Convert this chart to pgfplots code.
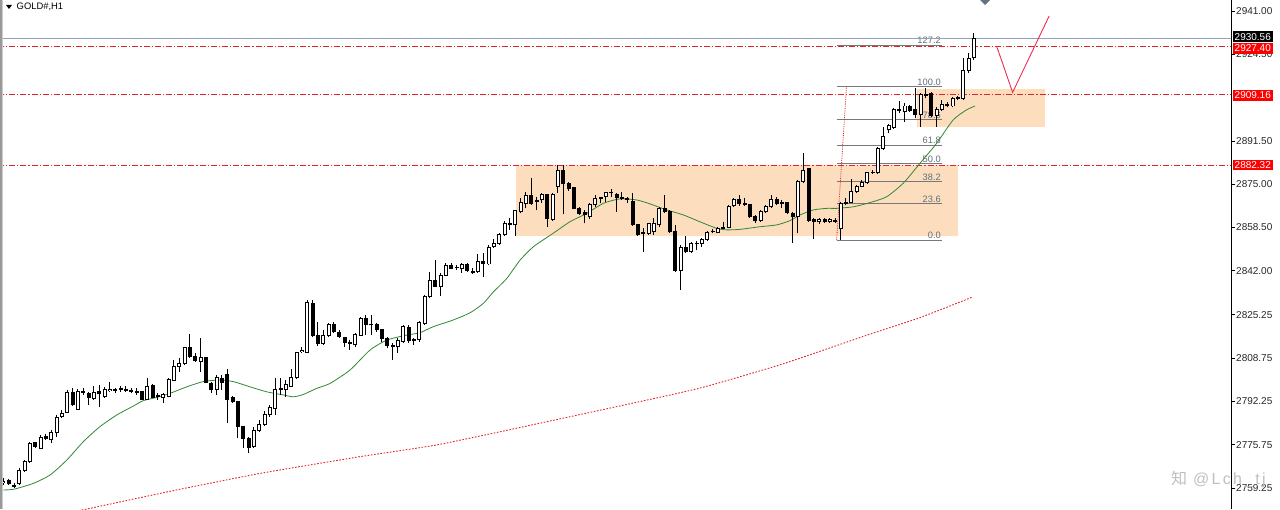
\documentclass[border=0pt]{standalone}
\usepackage{pgfplots}
\pgfplotsset{compat=1.18}
\usepackage{pgfplotstable}
\usepackage{fontspec}
\setmainfont{Liberation Sans}
\newfontfamily\cjk{Noto Sans CJK SC}
\definecolor{rectc}{RGB}{252,222,190}
\definecolor{lred}{RGB}{225,35,40}
\definecolor{pricegray}{RGB}{150,160,175}
\definecolor{fibtxt}{RGB}{95,110,125}
\definecolor{fibline}{RGB}{120,120,120}
\definecolor{magreen}{RGB}{50,135,50}
\definecolor{pathred}{RGB}{235,45,80}
\definecolor{markgray}{RGB}{100,114,132}
\tikzset{fibt/.style={pos=1, anchor=south east, inner sep=0.8pt, text=fibtxt, font=\fontsize{9.3}{10}\selectfont},
  fibl/.style={fibline, line width=0.8pt}}

\pgfplotstableread{
i o h l c
0 2761.5 2762.9 2760.4 2761.9
1 2762.3 2762.7 2760.5 2760.8
2 2760.0 2761.0 2759.1 2760.3
3 2760.8 2766.7 2760.4 2766.1
4 2765.9 2769.9 2765.5 2769.5
5 2769.3 2776.6 2768.9 2776.3
6 2776.5 2776.9 2774.4 2775.0
7 2774.4 2779.4 2774.0 2778.4
8 2778.8 2779.8 2777.5 2778.2
9 2777.8 2781.4 2776.3 2780.5
10 2780.3 2787.1 2778.8 2786.2
11 2786.4 2789.0 2785.8 2787.7
12 2788.0 2796.6 2787.7 2795.7
13 2795.7 2797.2 2790.5 2790.9
14 2789.2 2796.8 2789.0 2796.2
15 2795.8 2797.2 2794.7 2796.1
16 2795.3 2796.0 2790.9 2793.8
17 2793.4 2798.1 2792.8 2795.6
18 2796.0 2798.5 2790.0 2795.1
19 2794.1 2797.9 2793.4 2796.6
20 2796.3 2799.8 2796.0 2796.8
21 2796.5 2797.5 2795.3 2796.7
22 2796.7 2798.1 2796.0 2797.0
23 2796.5 2798.1 2796.0 2796.7
24 2796.1 2797.2 2795.6 2796.3
25 2795.8 2797.2 2794.7 2796.1
26 2796.0 2796.3 2792.8 2793.0
27 2793.0 2801.3 2792.8 2798.1
28 2798.4 2798.9 2793.4 2793.8
29 2794.6 2795.3 2792.8 2794.2
30 2793.7 2795.3 2791.5 2794.7
31 2794.1 2801.0 2793.8 2800.7
32 2800.4 2808.0 2800.1 2805.7
33 2805.7 2808.7 2803.6 2806.8
34 2806.8 2813.1 2806.1 2812.7
35 2812.7 2817.8 2808.7 2809.5
36 2809.5 2810.6 2807.4 2807.8
37 2807.4 2816.3 2803.6 2808.9
38 2808.9 2809.3 2799.1 2799.4
39 2799.1 2799.8 2795.6 2796.6
40 2796.6 2802.3 2794.7 2801.3
41 2801.0 2802.3 2796.6 2799.5
42 2802.5 2804.5 2783.9 2793.0
43 2793.8 2794.3 2791.8 2792.1
44 2792.1 2792.5 2778.2 2782.6
45 2782.6 2782.9 2774.4 2778.2
46 2778.2 2778.8 2772.5 2774.6
47 2775.0 2782.6 2774.4 2781.1
48 2781.1 2785.2 2780.7 2783.5
49 2783.5 2788.6 2783.0 2787.1
50 2787.3 2790.9 2786.4 2789.9
51 2789.5 2801.0 2787.1 2796.8
52 2796.8 2801.0 2794.7 2797.1
53 2796.6 2800.4 2794.1 2798.5
54 2798.1 2804.5 2797.9 2801.3
55 2801.3 2811.2 2800.7 2810.8
56 2811.2 2813.1 2810.8 2811.6
57 2810.8 2830.9 2810.6 2829.9
58 2829.6 2830.9 2816.9 2817.5
59 2817.5 2822.6 2813.5 2814.4
60 2814.4 2819.5 2813.7 2817.2
61 2817.3 2822.0 2816.9 2821.4
62 2821.4 2822.6 2818.4 2818.8
63 2818.6 2819.5 2816.3 2816.9
64 2816.7 2816.9 2812.9 2814.6
65 2814.5 2815.7 2811.8 2814.3
66 2814.0 2818.2 2813.1 2817.9
67 2817.5 2824.5 2817.2 2823.9
68 2823.9 2825.2 2817.5 2821.4
69 2821.7 2825.2 2817.5 2821.5
70 2821.6 2822.0 2818.8 2819.5
71 2819.5 2819.7 2815.0 2816.3
72 2816.3 2816.7 2812.5 2813.7
73 2813.5 2814.4 2808.0 2813.2
74 2813.1 2816.3 2810.6 2815.3
75 2815.0 2821.4 2814.4 2820.7
76 2820.5 2821.4 2814.6 2815.3
77 2815.5 2816.5 2813.7 2815.8
78 2815.7 2823.0 2815.0 2822.3
79 2822.0 2832.8 2821.4 2832.2
80 2832.2 2841.7 2831.5 2838.5
81 2838.5 2846.1 2835.7 2836.0
82 2836.2 2841.1 2832.4 2840.4
83 2840.4 2844.9 2840.0 2844.2
84 2844.2 2844.9 2842.6 2843.0
85 2843.2 2844.2 2842.3 2843.4
86 2843.0 2844.9 2841.3 2844.5
87 2844.5 2844.9 2841.7 2842.3
88 2841.8 2843.0 2840.8 2841.5
89 2841.7 2848.3 2841.1 2845.5
90 2845.5 2848.7 2839.8 2844.9
91 2844.6 2851.8 2844.2 2851.0
92 2851.2 2854.0 2850.6 2852.5
93 2852.5 2856.3 2851.8 2855.7
94 2855.7 2861.0 2855.1 2859.9
95 2859.7 2862.0 2857.6 2860.0
96 2859.5 2865.2 2855.3 2864.8
97 2864.5 2869.6 2863.9 2868.0
98 2867.7 2872.2 2865.8 2870.6
99 2870.6 2877.2 2867.1 2867.7
100 2868.9 2870.3 2865.2 2868.6
101 2869.0 2871.5 2868.0 2870.9
102 2870.9 2871.1 2858.8 2862.0
103 2861.6 2871.5 2861.0 2870.9
104 2874.1 2882.3 2871.8 2880.4
105 2880.4 2882.3 2863.6 2875.3
106 2875.3 2876.0 2872.5 2873.2
107 2873.7 2874.1 2865.4 2865.8
108 2865.8 2866.2 2863.3 2863.9
109 2864.2 2865.2 2860.1 2863.3
110 2862.6 2867.7 2861.6 2867.1
111 2867.1 2870.9 2866.4 2869.6
112 2869.5 2870.3 2867.7 2869.8
113 2870.3 2872.2 2868.4 2871.8
114 2871.7 2873.0 2870.3 2871.9
115 2870.9 2871.8 2864.5 2869.9
116 2869.8 2872.2 2869.0 2869.5
117 2869.4 2870.3 2868.0 2869.1
118 2868.4 2871.5 2859.1 2859.5
119 2859.5 2859.9 2855.3 2855.7
120 2856.7 2858.2 2849.3 2856.4
121 2856.3 2860.3 2855.7 2859.9
122 2856.9 2862.0 2855.7 2860.1
123 2859.5 2866.5 2858.8 2865.8
124 2865.8 2870.9 2863.9 2864.5
125 2864.5 2865.2 2856.5 2856.9
126 2856.9 2859.5 2841.7 2842.3
127 2842.3 2851.8 2834.7 2850.8
128 2850.8 2855.1 2848.7 2849.3
129 2849.3 2853.1 2848.7 2852.5
130 2852.3 2853.5 2849.9 2852.6
131 2852.5 2854.4 2851.2 2854.0
132 2854.0 2857.2 2853.5 2856.5
133 2856.8 2857.8 2856.3 2857.0
134 2856.5 2858.8 2856.3 2858.2
135 2858.3 2860.7 2857.8 2858.6
136 2858.4 2867.1 2858.2 2866.5
137 2866.7 2869.6 2866.2 2869.0
138 2869.0 2870.9 2866.7 2867.5
139 2867.5 2869.9 2866.7 2867.2
140 2867.1 2867.5 2862.0 2862.6
141 2862.6 2863.3 2860.3 2861.1
142 2861.1 2865.2 2860.7 2864.5
143 2864.5 2867.1 2863.9 2866.4
144 2866.4 2870.9 2865.8 2869.0
145 2869.2 2870.3 2867.1 2867.7
146 2868.1 2869.0 2865.8 2867.8
147 2868.0 2868.4 2863.5 2864.2
148 2863.9 2864.5 2852.7 2862.6
149 2862.6 2876.6 2856.3 2876.0
150 2876.0 2886.8 2875.3 2880.4
151 2880.8 2881.1 2860.7 2861.1
152 2861.4 2862.0 2854.0 2860.7
153 2860.7 2862.0 2859.8 2861.4
154 2861.6 2862.0 2860.3 2860.7
155 2860.7 2862.0 2860.1 2861.4
156 2860.9 2862.0 2860.3 2861.1
157 2858.2 2868.4 2853.8 2867.7
158 2867.8 2869.6 2867.1 2868.1
159 2868.0 2876.9 2867.7 2872.2
160 2872.2 2874.7 2871.5 2874.3
161 2874.1 2876.6 2873.8 2875.7
162 2875.6 2879.8 2875.1 2879.4
163 2879.3 2880.4 2878.9 2879.5
164 2879.4 2889.3 2878.9 2888.7
165 2888.7 2896.7 2888.0 2893.1
166 2895.7 2897.9 2894.4 2897.2
167 2896.7 2903.9 2895.9 2903.3
168 2903.2 2906.7 2902.0 2903.4
169 2902.6 2905.8 2898.8 2904.8
170 2904.8 2905.2 2902.6 2903.0
171 2903.3 2911.5 2900.1 2901.4
172 2901.4 2909.6 2896.9 2909.0
173 2909.1 2911.5 2907.7 2908.9
174 2909.4 2910.3 2900.7 2901.0
175 2901.0 2904.3 2896.9 2903.5
176 2903.5 2907.1 2903.0 2905.2
177 2905.3 2906.5 2904.3 2904.8
178 2904.8 2908.1 2904.3 2907.7
179 2907.6 2908.6 2907.1 2907.9
180 2907.7 2923.0 2907.1 2918.3
181 2918.3 2924.9 2917.5 2923.0
182 2923.4 2932.5 2922.3 2930.6
}\candles

\pgfplotstableread{
i v
0 2758.5
2.0 2758.8
5.6 2761.0
8.75 2764.2
11.9 2769.9
15.0 2776.9
18.1 2782.6
21.3 2787.1
24.4 2790.5
26.2 2792.5
28.8 2793.8
31.25 2795.3
34.4 2797.8
37.5 2799.8
40.6 2800.4
43.1 2799.8
46.25 2797.8
49.4 2795.9
52.5 2794.7
54.4 2794.0
56.25 2794.9
58.75 2797.2
61.25 2799.1
65.0 2804.2
68.75 2811.8
71.9 2815.6
75.6 2817.5
78.1 2818.4
80.6 2820.7
84.4 2823.3
87.5 2826.0
90.0 2829.6
91.9 2834.0
94.4 2839.1
96.9 2846.1
99.4 2851.2
103.1 2856.3
106.25 2860.7
109.4 2863.9
112.5 2867.7
115.6 2869.4
118.75 2869.0
121.25 2867.5
124.4 2865.2
127.5 2863.3
130.6 2860.7
133.75 2858.2
135.6 2857.6
138.1 2857.8
141.9 2858.8
145.0 2859.5
147.5 2861.1
149.4 2863.3
151.9 2865.2
154.4 2865.8
156.25 2865.8
159.4 2866.4
162.5 2868.0
165.6 2870.2
168.75 2875.4
171.9 2883.0
175.0 2890.6
178.1 2899.5
180.6 2903.3
182.2 2904.8
}\maslow

\pgfplotstableread{
i v
10.0 2748.9
16.25 2751.5
32.0 2758.3
48.1 2764.8
66.9 2771.2
81.9 2775.9
104.4 2785.6
130.0 2797.0
146.1 2806.5
162.1 2817.6
171.8 2824.1
181.7 2832.0
}\malong

\begin{document}
\begin{tikzpicture}[x=1pt,y=1pt]
\begin{axis}[
  at={(0pt,0pt)}, anchor=south west,
  scale only axis, width=1231pt, height=509pt,
  xmin=-0.625, xmax=230.2, ymin=2751.25, ymax=2945.19,
  axis x line=none, axis y line*=right,
  axis line style={-, black, line width=0.9pt},
  ytick={2759.25,2775.75,2792.25,2808.75,2825.25,2842.00,2858.50,2875.00,2891.50,2924.50,2941.00},
  tick align=outside, major tick length=4pt,
  tick style={black, line width=0.8pt},
  yticklabel style={font=\fontsize{10}{12}\selectfont, inner sep=1pt, text=black!85,
    /pgf/number format/.cd, fixed, fixed zerofill, precision=2, 1000 sep={}, assume math mode=true},
]
% zones
\fill[rectc] (axis cs:96.1,2855.27) rectangle (axis cs:179.0,2882.5);
\fill[rectc] (axis cs:171.3,2896.7) rectangle (axis cs:195.3,2911.28);

% fibonacci
\addplot[fibl, forget plot] coordinates {(156.25,2928.04) (176.0,2928.04)} node[fibt] {127.2};
\addplot[fibl, forget plot] coordinates {(156.25,2912.15) (176.0,2912.15)} node[fibt] {100.0};
\addplot[fibl, forget plot] coordinates {(156.25,2899.65) (176.0,2899.65)} node[fibt] {78.6};
\addplot[fibl, forget plot] coordinates {(156.25,2889.84) (176.0,2889.84)} node[fibt] {61.8};
\addplot[fibl, forget plot] coordinates {(156.25,2882.95) (176.0,2882.95)} node[fibt] {50.0};
\addplot[fibl, forget plot] coordinates {(156.25,2876.05) (176.0,2876.05)} node[fibt] {38.2};
\addplot[fibl, forget plot] coordinates {(156.25,2867.52) (176.0,2867.52)} node[fibt] {23.6};
\addplot[fibl, forget plot] coordinates {(156.25,2853.74) (176.0,2853.74)} node[fibt] {0.0};
\addplot[lred, line width=0.8pt, densely dotted, forget plot] coordinates {(156.25,2853.74) (158.1,2912.15)};

% price line and levels
\addplot[pricegray, line width=0.8pt, forget plot] coordinates {(-1,2930.56) (231,2930.56)};
\addplot[lred, line width=0.9pt, dash pattern=on 6pt off 2pt on 1.2pt off 2pt, forget plot] coordinates {(-1,2927.40) (231,2927.40)};
\addplot[lred, line width=0.9pt, dash pattern=on 6pt off 2pt on 1.2pt off 2pt, forget plot] coordinates {(-1,2909.16) (231,2909.16)};
\addplot[lred, line width=0.9pt, dash pattern=on 6pt off 2pt on 1.2pt off 2pt, forget plot] coordinates {(-1,2882.32) (231,2882.32)};

% moving averages
\addplot[magreen, line width=0.8pt, smooth, tension=0.4, forget plot] table[x=i, y=v] {\maslow};
\addplot[lred, line width=0.9pt, dash pattern=on 1.6pt off 1.6pt, smooth, tension=0.3, forget plot] table[x=i, y=v] {\malong};

% candles: wicks
\addplot[forget plot, draw=none, mark=none,
  error bars/.cd, y dir=plus, y explicit, error mark=none,
  error bar style={draw=black, solid, line width=1pt}]
  table[x=i, y=l, y error expr=\thisrow{h}-\thisrow{l}] {\candles};
% bodies (outline)
\addplot[forget plot, draw=none, mark=none,
  error bars/.cd, y dir=plus, y explicit, error mark=none,
  error bar style={draw=black, solid, line width=3.8pt}]
  table[x=i, y expr={min(\thisrow{o},\thisrow{c})-0.19}, y error expr={abs(\thisrow{c}-\thisrow{o})+0.38}] {\candles};
% bodies (white inside for rising bars)
\addplot[forget plot, draw=none, mark=none,
  error bars/.cd, y dir=plus, y explicit, error mark=none,
  error bar style={draw=white, solid, line width=1.8pt}]
  table[x=i, y expr={\thisrow{o}+0.19}, y error expr={max(\thisrow{c}-\thisrow{o}-0.38,0)}] {\candles};

% drawn path
\addplot[pathred, line width=0.9pt, forget plot] coordinates {(186.25,2927.6) (189.25,2910.0) (196.1,2939.1)};
% marker at top
\fill[markgray] (axis cs:182.97,2945.57) -- (axis cs:184.1,2943.28) -- (axis cs:185.22,2945.57) -- (axis cs:184.1,2947.86) -- cycle;
\end{axis}

% left border
\fill[black!40] (0,0) rectangle (2pt,509pt);
\draw[black!20, line width=0.8pt] (2.6pt,0) -- (2.6pt,509pt);

% title
\fill[black] (6pt,504pt) -- (12pt,504pt) -- (9pt,500pt) -- cycle;
\node[anchor=west, inner sep=0pt, font=\fontsize{9.4}{10}\selectfont] at (16.5pt,502pt) {GOLD\#,H1};

% price boxes on the axis
\tikzset{pbox/.style={anchor=west, inner xsep=2pt, inner ysep=0pt, minimum height=10.5pt, text=white, font=\fontsize{10}{11}\selectfont}}
\node[pbox, fill=black] at (1232.5pt,472.3pt) {2930.56};
\node[pbox, fill=red] at (1232.5pt,460.7pt) {2927.40};
\node[pbox, fill=red] at (1232.5pt,413.7pt) {2909.16};
\node[pbox, fill=red] at (1232.5pt,343.8pt) {2882.32};

% watermark
\node[anchor=west, inner sep=0pt, text=black!25, font=\fontsize{16}{17}\selectfont] at (1171pt,30pt) {{\cjk 知}\hspace{6pt}{\addfontfeatures{LetterSpace=14}@Lch\_tj}};

\pgfresetboundingbox
\path[use as bounding box] (0,0) rectangle (1280pt,509pt);
\end{tikzpicture}
\end{document}
